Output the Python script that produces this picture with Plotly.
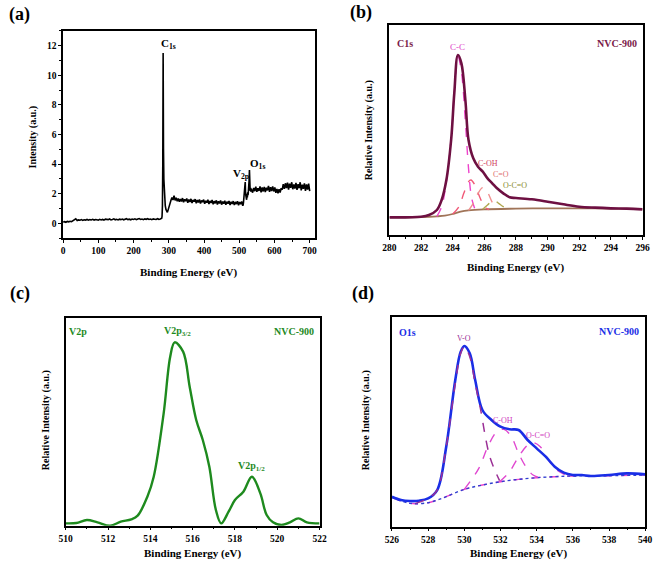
import numpy as np
import plotly.graph_objects as go

W, H = 661, 562

# ---------------- (a) survey spectrum ----------------
surv_seg1_y = [0.10,0.12,0.08,0.14,0.11,0.15,0.12,0.18,0.22,0.32,0.20,0.24,0.22,0.26,0.21,0.25,0.23,0.27,0.22,0.26,
               0.24,0.28,0.23,0.27,0.25,0.22,0.28,0.24,0.27,0.23,0.29,0.25,0.26,0.30,0.24,0.27,0.31,0.25,0.28,0.24,
               0.29,0.26,0.30,0.25,0.28,0.32,0.26,0.29,0.25,0.30,0.27,0.31,0.26,0.29,0.33,0.27,0.30,0.26,0.31,0.28,
               0.32,0.27,0.30,0.26,0.31,0.29,0.27,0.32,0.28,0.30]
surv_seg1_x = [0 + 4 * i for i in range(len(surv_seg1_y))]
surv_seg2_x = [278, 280, 281, 282, 283, 283.5, 284, 284.5, 285, 286, 287, 288, 289, 290, 292, 294, 296, 298, 300, 302, 304]
surv_seg2_y = [0.30, 0.35, 0.5, 1.2, 4.0, 9.0, 11.5, 8.0, 5.0, 3.0, 2.2, 1.8, 1.5, 1.2, 0.95, 0.8, 0.75, 0.9, 1.1, 1.3, 1.5]
surv_seg3_y = [1.55,1.75,1.58,1.88,1.56,1.73,1.50,1.69,1.46,1.65,1.48,1.71,1.43,1.63,1.50,1.68,1.40,1.61,1.45,1.66,
               1.38,1.59,1.47,1.64,1.36,1.58,1.42,1.62,1.34,1.55,1.44,1.61,1.33,1.53,1.40,1.60,1.31,1.52,1.38,1.58,
               1.30,1.50,1.36,1.56,1.28,1.49,1.35,1.55,1.27,1.48,1.34,1.53,1.26,1.47,1.33,1.52,1.25,1.46,1.32,1.51,
               1.24,1.45,1.31,1.50,1.23,1.44,1.30,1.48,1.20]
surv_seg3_x = [306 + 3 * i for i in range(len(surv_seg3_y))]
surv_seg4_x = [511, 512, 513, 514, 515, 516, 517, 518, 519, 520, 521, 522, 523, 524, 525, 526, 527, 528, 529, 530, 531, 532, 533, 534, 536]
surv_seg4_y = [1.25, 1.40, 1.60, 1.85, 2.2, 2.4, 2.8, 2.0, 1.7, 1.9, 1.6, 2.0, 1.75, 2.1, 1.9, 2.2, 2.4, 2.9, 3.6, 2.8, 2.2, 2.4, 2.15, 2.35, 2.2]
surv_seg5_y = [2.08,2.40,2.18,2.48,2.13,2.38,2.20,2.50,2.10,2.43,
               2.16,2.47,2.12,2.41,2.23,2.53,2.14,2.45,2.18,2.50,
               2.16,2.43,2.06,2.33,2.03,2.31,2.08,2.38,2.28,2.65,
               2.33,2.71,2.38,2.75,2.28,2.68,2.40,2.78,2.31,2.63,
               2.36,2.73,2.26,2.65,2.38,2.78,2.23,2.61,2.34,2.71,
               2.20,2.63,2.28,2.69,2.18]
surv_seg5_x = [538 + 3 * i for i in range(len(surv_seg5_y))]

surv_x = surv_seg1_x + surv_seg2_x + surv_seg3_x + surv_seg4_x + surv_seg5_x
surv_y = surv_seg1_y + surv_seg2_y + surv_seg3_y + surv_seg4_y + surv_seg5_y

# ---------------- (b) C1s ----------------
c1s_x = [280, 282, 282.5, 283, 283.3, 283.6, 283.9, 284.1, 284.33, 284.55, 284.8, 285.0, 285.3, 285.6, 285.9,
         286.2, 286.5, 286.8, 287.2, 287.6, 288, 289, 290, 291, 292, 293, 294, 295, 296]
c1s_y = [53, 55, 60, 75, 105, 165, 285, 425, 540, 515, 405, 285, 230, 205, 190,
         170, 155, 140, 125, 113, 111, 107, 100, 92, 85, 82, 80, 79, 77]
c1s_base_x = [280, 282, 283, 283.5, 284, 284.5, 285, 286, 288, 290, 292, 294, 296]
c1s_base_y = [53, 54, 56, 58, 63, 70, 74, 77, 79, 80, 80, 79, 78]
cc_x = [283.0, 283.3, 283.6, 283.9, 284.1, 284.33, 284.55, 284.8, 285.0, 285.2, 285.45]
cc_y = [56, 85, 160, 290, 425, 535, 490, 340, 200, 110, 72]
coh_x = [284.0, 284.4, 284.7, 285.0, 285.15, 285.4, 285.7, 286.0, 286.3]
coh_y = [63, 85, 125, 160, 165, 150, 115, 85, 76]
co_x = [285.0, 285.3, 285.6, 285.9, 286.2, 286.5, 286.8]
co_y = [74, 95, 125, 142, 128, 98, 78]
oco_x = [285.9, 286.2, 286.56, 286.9, 287.2, 287.5]
oco_y = [77, 90, 105, 95, 85, 79]

# ---------------- (c) V2p ----------------
v2p_x = [510, 510.5, 511, 511.5, 512.1, 512.6, 513.1, 513.4, 513.86, 514.16, 514.63, 514.94, 515.15, 515.55, 515.86,
         516.17, 516.48, 516.79, 517.1, 517.35, 517.7, 518.0, 518.4, 518.8, 519.2, 519.5, 519.8, 520.2, 520.6, 521.0, 521.4, 522]
v2p_y = [7, 8, 17, 10, 0, 12, 19, 30, 87, 147, 337, 507, 550, 522, 417,
         317, 257, 177, 47, 7, 42, 77, 102, 147, 97, 32, 10, 2, 10, 22, 10, 7]

# ---------------- (d) O1s ----------------
o1s_x = [526, 526.5, 527, 527.5, 528, 528.5, 529, 529.5, 529.8, 530, 530.3, 530.6, 531, 531.5, 532, 532.5, 533,
         533.5, 534, 534.5, 535, 535.5, 536, 536.5, 537, 538, 539, 540]
o1s_y = [90, 80, 77, 78, 85, 110, 240, 440, 525, 542, 520, 440, 350, 320, 300, 292, 290,
         260, 235, 210, 180, 162, 155, 155, 152, 155, 160, 157]
o1s_base_x = [526, 527, 528, 528.5, 529, 530, 531, 532, 533, 534, 535, 536, 538, 540]
o1s_base_y = [88, 70, 72, 80, 90, 112, 125, 135, 142, 147, 150, 152, 153, 155]
vo_x = [527.3, 528, 528.5, 529, 529.5, 529.8, 530, 530.3, 530.6, 530.87, 531.41, 531.95]
vo_y = [70, 85, 110, 240, 430, 520, 540, 510, 430, 360, 210, 138]
ohc_x = [530.0, 530.8, 531.3, 531.8, 532.2, 532.6, 533.0, 533.4, 533.8, 534.2]
ohc_y = [112, 175, 240, 285, 292, 270, 220, 180, 155, 147]
ococ_x = [531.95, 532.5, 533.0, 533.5, 533.8, 534.2, 534.6, 535.0, 535.5, 536.0]
ococ_y = [135, 165, 210, 245, 252, 240, 205, 175, 158, 152]


def px(x, y):
    return x / W, 1 - y / H


fig = go.Figure()

FONT = "Liberation Serif, Times New Roman, serif"

# (a)
fig.add_trace(go.Scatter(x=surv_x, y=surv_y, mode="lines", line=dict(color="black", width=1.6),
                         xaxis="x", yaxis="y", showlegend=False))
# (b)
sp = dict(xaxis="x2", yaxis="y2", showlegend=False, mode="lines")
fig.add_trace(go.Scatter(x=c1s_base_x, y=c1s_base_y, line=dict(color="#a07458", width=1.8, shape="spline"), **sp))
fig.add_trace(go.Scatter(x=cc_x, y=cc_y, line=dict(color="#ee44cc", width=1.4, dash="dash", shape="spline"), **sp))
fig.add_trace(go.Scatter(x=coh_x, y=coh_y, line=dict(color="#f05a78", width=1.4, dash="dash", shape="spline"), **sp))
fig.add_trace(go.Scatter(x=co_x, y=co_y, line=dict(color="#f09090", width=1.4, dash="dash", shape="spline"), **sp))
fig.add_trace(go.Scatter(x=oco_x, y=oco_y, line=dict(color="#b0a850", width=1.4, dash="dash", shape="spline"), **sp))
fig.add_trace(go.Scatter(x=c1s_x, y=c1s_y, line=dict(color="#6e1042", width=2.6, shape="spline"), **sp))
# (c)
fig.add_trace(go.Scatter(x=v2p_x, y=v2p_y, mode="lines", line=dict(color="#1e8a1e", width=2.4, shape="spline"),
                         xaxis="x3", yaxis="y3", showlegend=False))
# (d)
sd = dict(xaxis="x4", yaxis="y4", showlegend=False, mode="lines")
fig.add_trace(go.Scatter(x=o1s_base_x, y=o1s_base_y, line=dict(color="#ee44cc", width=1.4, dash="dash", shape="spline"), **sd))
fig.add_trace(go.Scatter(x=o1s_base_x, y=o1s_base_y, line=dict(color="#3040d0", width=1.4, dash="dot", shape="spline"), **sd))
fig.add_trace(go.Scatter(x=ohc_x, y=ohc_y, line=dict(color="#e048d0", width=1.4, dash="dash", shape="spline"), **sd))
fig.add_trace(go.Scatter(x=ococ_x, y=ococ_y, line=dict(color="#e048d0", width=1.4, dash="dash", shape="spline"), **sd))
fig.add_trace(go.Scatter(x=o1s_x, y=o1s_y, line=dict(color="#1a2ee6", width=2.6, shape="spline"), **sd))
fig.add_trace(go.Scatter(x=vo_x, y=vo_y, line=dict(color="#9b3096", width=1.5, dash="dash", shape="spline"), **sd))

tickfont = dict(family=FONT, size=9.5, color="black", weight="bold")


def xax(domain, rng, dtick, minor_dtick, anchor):
    return dict(domain=domain, range=rng, dtick=dtick, tick0=rng[0] if dtick != 100 else 0,
                showline=True, linecolor="black", linewidth=1.5, mirror=True,
                ticks="outside", ticklen=3, tickwidth=1.2, tickcolor="black",
                minor=dict(dtick=minor_dtick, ticks="outside", ticklen=2, tickwidth=1, tickcolor="black"),
                showgrid=False, zeroline=False, tickfont=tickfont, anchor=anchor)


def yax_plain(domain, rng, anchor):
    return dict(domain=domain, range=rng, showline=True, linecolor="black", linewidth=1.5, mirror=True,
                ticks="", showticklabels=False, showgrid=False, zeroline=False, anchor=anchor)


def dom_x(a, b):
    return [a / W, b / W]


def dom_y(top, bottom):
    return [1 - bottom / H, 1 - top / H]


layout = dict(
    width=W, height=H, margin=dict(l=0, r=0, t=0, b=0),
    paper_bgcolor="white", plot_bgcolor="white", showlegend=False,
    xaxis=xax(dom_x(57.3, 315), [0, 716], 100, 50, "y"),
    yaxis=dict(domain=dom_y(30.7, 238.3), range=[-1, 13], dtick=2, tick0=0,
               showline=True, linecolor="black", linewidth=1.5, mirror=True,
               ticks="outside", ticklen=3, tickwidth=1.2, tickcolor="black",
               minor=dict(dtick=1, ticks="outside", ticklen=2, tickwidth=1, tickcolor="black"),
               showgrid=False, zeroline=False, tickfont=tickfont, anchor="x"),
    xaxis2=xax(dom_x(390.7, 649.3), [280, 296], 2, 1, "y2"),
    yaxis2=yax_plain(dom_y(25, 235), [0, 630], "x2"),
    xaxis3=xax(dom_x(60, 319.3), [510, 522], 2, 1, "y3"),
    yaxis3=yax_plain(dom_y(318.3, 525.7), [0, 622], "x3"),
    xaxis4=xax(dom_x(393.3, 652), [526, 540], 2, 1, "y4"),
    yaxis4=yax_plain(dom_y(317.3, 526.7), [0, 628], "x4"),
)
fig.update_layout(**layout)


def ann(text, x, y, size=11, color="black", angle=0):
    xp, yp = px(x, y)
    fig.add_annotation(text=text, x=xp, y=yp, xref="paper", yref="paper", showarrow=False,
                       font=dict(family=FONT, size=size, color=color), textangle=angle,
                       xanchor="center", yanchor="middle")


# panel labels
ann("<b>(a)</b>", 13, 14, 18)
ann("<b>(b)</b>", 362, 12, 18)
ann("<b>(c)</b>", 13, 293, 18)
ann("<b>(d)</b>", 364, 293, 18)

# axis titles
ann("<b>Binding Energy (eV)</b>", 186, 272, 11)
ann("<b>Binding Energy (eV)</b>", 520, 267, 11)
ann("<b>Binding Energy (eV)</b>", 190, 553, 11)
ann("<b>Binding Energy (eV)</b>", 523, 553, 11)
ann("<b>Intensity (a.u.)</b>", 27, 137, 10, angle=-90)
ann("<b>Relative Intensity (a.u.)</b>", 370, 130, 10, angle=-90)
ann("<b>Relative Intensity (a.u.)</b>", 40, 420, 10, angle=-90)
ann("<b>Relative Intensity (a.u.)</b>", 367, 420, 10, angle=-90)

# (a) peak labels
ann("<b>C<sub>1s</sub></b>", 165, 44, 11)
ann("<b>V<sub>2p</sub></b>", 239, 174, 11)
ann("<b>O<sub>1s</sub></b>", 256, 164, 11)

# (b) labels
maroon = "#7a1a48"
ann("<b>C1s</b>", 407, 43, 10, maroon)
ann("<b>NVC-900</b>", 623, 43, 10, maroon)
ann("C-C", 460, 47, 9, "#e040c8")
ann("C-OH", 491, 163, 8, "#d04060")
ann("C=O", 505, 174, 8, "#e07070")
ann("O-C=O", 519, 186, 8, "#8a8a30")

# (c) labels
green = "#1e8a1e"
ann("<b>V2p</b>", 73, 331, 10, green)
ann("<b>V2p<sub>3/2</sub></b>", 174, 331, 10, green)
ann("<b>V2p<sub>1/2</sub></b>", 250, 466, 10, green)
ann("<b>NVC-900</b>", 293, 331, 10, green)

# (d) labels
blue = "#1a2ee6"
ann("<b>O1s</b>", 409, 332, 10, blue)
ann("<b>NVC-900</b>", 625, 331, 10, blue)
ann("V-O", 467, 338, 8, "#9b3096")
ann("C-OH", 507, 420, 8, "#d040c0")
ann("O-C=O", 543, 435, 8, "#d040c0")

fig.write_html("out.html",
               config={"displayModeBar": False},
               post_script="document.body.style.margin='0';document.body.style.overflow='hidden';")
